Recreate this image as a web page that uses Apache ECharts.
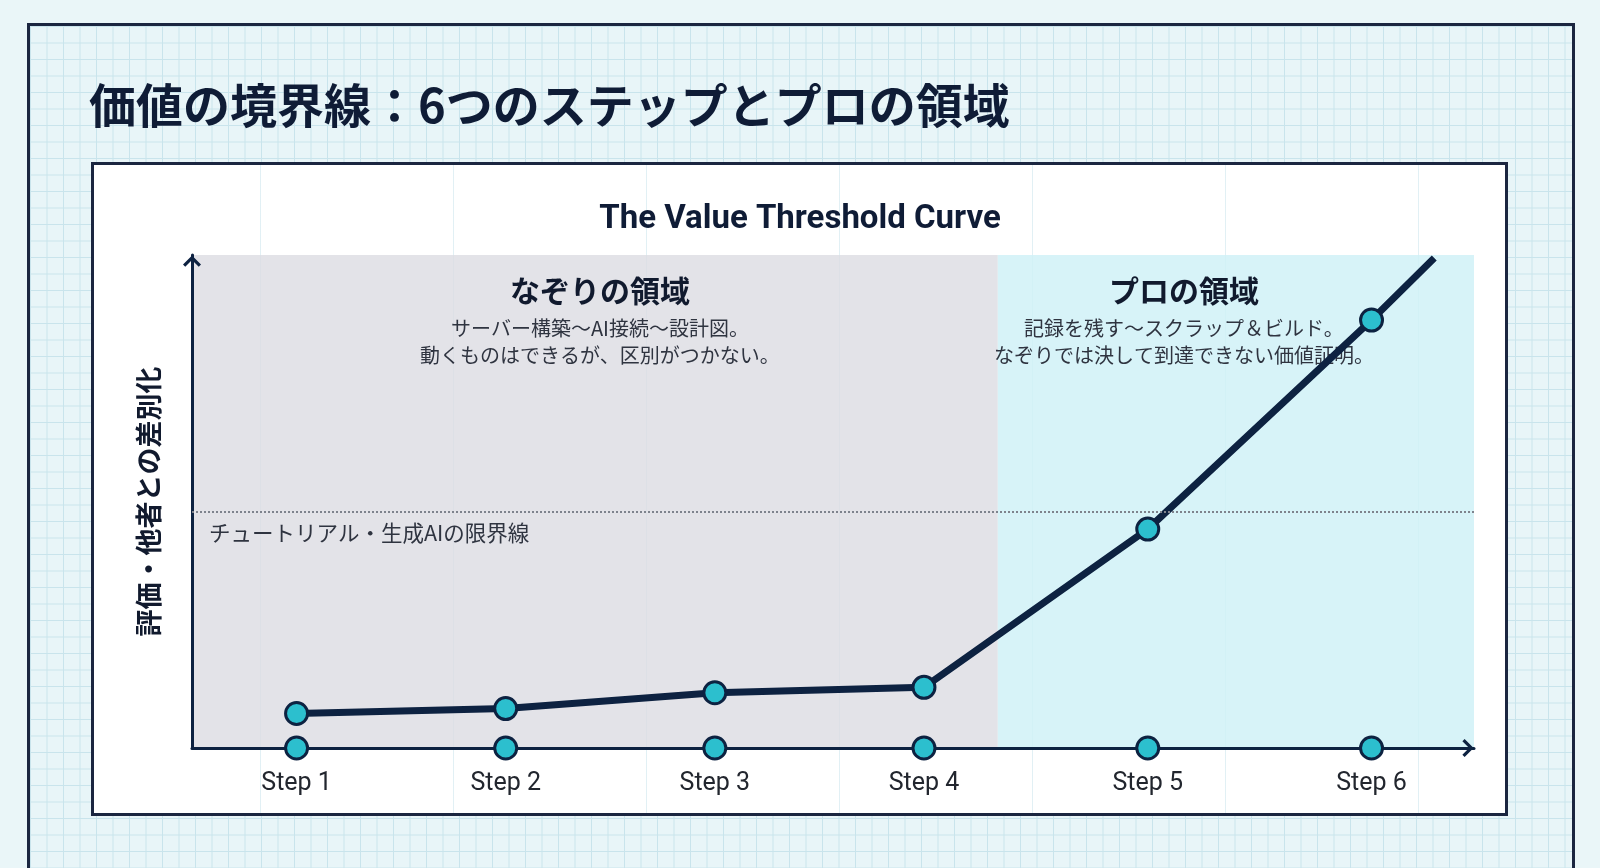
<!DOCTYPE html>
<html>
<head>
<meta charset="utf-8">
<title>価値の境界線</title>
<script src="https://cdn.jsdelivr.net/npm/echarts@6/dist/echarts.min.js"></script>
<style>
  html, body { margin: 0; padding: 0; width: 1600px; height: 868px; overflow: hidden; background: #eaf6f8; }
  .frame {
    position: absolute; left: 27px; top: 23px; width: 1542px; height: 860px;
    border: 3px solid #1b2640;
    background-color: #e8f5f8;
    background-image:
      linear-gradient(#c9e4ec 1px, transparent 1px),
      linear-gradient(90deg, #c9e4ec 1px, transparent 1px);
    background-size: 16.5px 16.5px;
  }
  .panel {
    position: absolute; left: 91px; top: 162px; width: 1411px; height: 648px;
    border: 3px solid #1b2640;
    background-color: #fff;
    background-image:
      linear-gradient(90deg, rgba(190,222,232,0.45) 1px, transparent 1px);
    background-size: 193px 100%;
    background-position: 166px 0;
  }
  #main { position: absolute; left: 0; top: 0; width: 1600px; height: 868px; }
</style>
</head>
<body>
<div class="frame"></div>
<div class="panel"></div>
<div id="main"></div>
<script>
// ステップ名と位置（横軸上の位置は図から読み取り）
var stepNames = ['Step 1', 'Step 2', 'Step 3', 'Step 4', 'Step 5', 'Step 6'];
var stepX = [1, 2, 3, 4, 5.07, 6.14];
var stepValue = [7, 8, 11.2, 12.3, 44.4, 86.8];
// 曲線の終端（Step 6 の先）
var tailX = 6.44, tailValue = 99.4;
// 限界線
var thresholdValue = 48;
// 領域の境界
var xMin = 0.5, xBoundary = 4.353, xMax = 6.63;
var yMin = 0, yMax = 100;

var mainTitle = '価値の境界線：6つのステップとプロの領域';
var subTitle = 'The Value Threshold Curve';
var yName = '評価・他者との差別化';
var thresholdLabel = 'チュートリアル・生成AIの限界線';
var zoneTracing = ['なぞりの領域', 'サーバー構築〜AI接続〜設計図。', '動くものはできるが、区別がつかない。'];
var zonePro = ['プロの領域', '記録を残す〜スクラップ＆ビルド。', 'なぞりでは決して到達できない価値証明。'];

var navy = '#0d2241';
var teal = '#2cbfce';
var font = 'Roboto, "Noto Sans CJK JP", sans-serif';
var chevron = 'path://M0,10 L10,0 L20,10 L17.5,12.5 L10,5 L2.5,12.5 Z';

function zoneText(z) {
    return '{t|' + z[0] + '}\n{d|' + z[1] + '}\n{d|' + z[2] + '}';
}
var zoneRich = {
    t: { fontSize: 30, fontWeight: 'bold', color: '#111a2e', lineHeight: 48, fontFamily: '"Noto Sans CJK JP"' },
    d: { fontSize: 20, color: '#2f3440', lineHeight: 27, fontFamily: '"Noto Sans CJK JP"' }
};

var curveData = stepX.map(function (x, i) { return [x, stepValue[i]]; });
curveData.push({ value: [tailX, tailValue], symbol: 'none' });

var axisDots = stepX.map(function (x, i) { return { value: [x, 0], name: stepNames[i] }; });

var myChart = echarts.init(document.getElementById('main'));
var option = {
    backgroundColor: 'transparent',
    animation: false,
    textStyle: { fontFamily: font },
    title: [
        {
            text: mainTitle, left: 84, top: 77,
            textStyle: { fontSize: 47, fontWeight: 'bold', color: '#0f1c36', fontFamily: '"Noto Sans CJK JP"' }
        },
        {
            text: subTitle, left: 'center', top: 198,
            textStyle: { fontSize: 33, fontWeight: 'bold', color: '#0f1c36', fontFamily: font }
        }
    ],
    grid: { left: 192, right: 126, top: 255, bottom: 120 },
    xAxis: {
        type: 'value', min: xMin, max: xMax, z: 3,
        axisLine: {
            show: true, onZero: false,
            symbol: ['none', chevron], symbolSize: [18, 12], symbolOffset: [0, -6],
            lineStyle: { color: navy, width: 3 }
        },
        axisTick: { show: false }, axisLabel: { show: false }, splitLine: { show: false }
    },
    yAxis: {
        type: 'value', min: yMin, max: yMax, z: 3,
        name: yName, nameLocation: 'middle', nameRotate: 90, nameGap: 30,
        nameTextStyle: { fontSize: 27, fontWeight: 'bold', color: '#111a2e', fontFamily: '"Noto Sans CJK JP"' },
        axisLine: {
            show: true,
            symbol: ['none', chevron], symbolSize: [18, 12], symbolOffset: [0, -6],
            lineStyle: { color: navy, width: 3 }
        },
        axisTick: { show: false }, axisLabel: { show: false }, splitLine: { show: false }
    },
    series: [
        {
            name: 'curve', type: 'line', data: curveData, z: 2,
            symbol: 'circle', symbolSize: 22,
            lineStyle: { color: navy, width: 7 },
            itemStyle: { color: teal, borderColor: navy, borderWidth: 3 },
            markArea: {
                silent: true,
                data: [
                    [
                        { xAxis: xMin, yAxis: yMin, itemStyle: { color: 'rgba(220,220,226,0.8)' },
                          label: { show: true, position: 'insideTop', distance: 12, formatter: zoneText(zoneTracing), rich: zoneRich, offset: [5, 0] } },
                        { xAxis: xBoundary, yAxis: yMax }
                    ],
                    [
                        { xAxis: xBoundary, yAxis: yMin, itemStyle: { color: 'rgba(206,240,246,0.82)' },
                          label: { show: true, position: 'insideTop', distance: 12, formatter: zoneText(zonePro), rich: zoneRich, offset: [-52, 0] } },
                        { xAxis: xMax, yAxis: yMax }
                    ]
                ]
            },
            markLine: {
                silent: true, symbol: 'none',
                lineStyle: { color: '#7e838d', width: 2, type: 'dotted' },
                label: {
                    show: true, position: 'insideStartBottom', formatter: thresholdLabel,
                    fontSize: 21.5, color: '#2f3440', fontFamily: '"Noto Sans CJK JP"', distance: [17, 11]
                },
                data: [{ yAxis: thresholdValue }]
            }
        },
        {
            name: 'steps', type: 'scatter', data: axisDots, z: 4,
            symbol: 'circle', symbolSize: 22,
            itemStyle: { color: teal, borderColor: navy, borderWidth: 3, opacity: 1 },
            label: {
                show: true, position: 'bottom', distance: 11,
                formatter: function (p) { return p.name; },
                fontSize: 25, color: '#22262e', fontFamily: font
            }
        }
    ]
};
myChart.setOption(option);
</script>
</body>
</html>
